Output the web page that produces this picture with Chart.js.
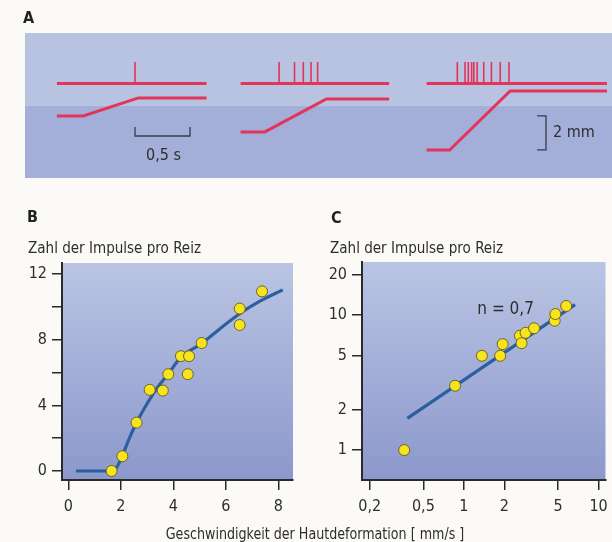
<!DOCTYPE html>
<html>
<head>
<meta charset="utf-8">
<script src="https://cdn.jsdelivr.net/npm/chart.js@4.4.1/dist/chart.umd.min.js"></script>
<style>
  html, body { margin: 0; padding: 0; }
  body {
    width: 612px; height: 542px; position: relative; overflow: hidden;
    background: #fbfaf6; color: #2e2e2e;
    font-family: "Liberation Sans Narrow", "DejaVu Sans Condensed", sans-serif;
  }
  canvas { position: absolute; }
  .lbl { position: absolute; white-space: nowrap; line-height: 1; }
  .panel { font-weight: bold; font-size: 16px; color: #222; }
  .title { font-size: 16px; transform: scaleX(0.94); transform-origin: left center; }
  .xtitle { font-size: 15px; transform: scaleX(0.94); transform-origin: center center; text-align: center; }
</style>
</head>
<body>
<canvas id="chartA" width="612" height="190" style="left:0; top:0;"></canvas>
<canvas id="chartB" width="300" height="342" style="left:0; top:200px;"></canvas>
<canvas id="chartC" width="312" height="342" style="left:300px; top:200px;"></canvas>

<div class="lbl panel" style="left:23px; top:10px;">A</div>
<div class="lbl panel" style="left:27px; top:209px;">B</div>
<div class="lbl title" style="left:28px; top:240px;">Zahl der Impulse pro Reiz</div>
<div class="lbl panel" style="left:331px; top:210px;">C</div>
<div class="lbl title" style="left:330px; top:240px;">Zahl der Impulse pro Reiz</div>
<div class="lbl xtitle" style="left:0; width:630px; top:527px;">Geschwindigkeit der Hautdeformation [ mm/s ]</div>

<script>
// ---- A: recordings (time in s, skin displacement in mm) ----
const traceStart = [0.29, 1.96, 3.65];
const traceEnd = [1.65, 3.31, 5.29];
const rampStart = [0.53, 2.18, 3.86];
const rampEnd = [1.03, 2.74, 4.41];
const rampLow = [3.65, 2.71, 1.65];
const rampHigh = [4.71, 4.65, 5.12];
const spikeTimes1 = [1.0];
const spikeTimes2 = [2.31, 2.45, 2.53, 2.60, 2.66];
const spikeTimes3 = [3.93, 4.00, 4.03, 4.06, 4.08, 4.11, 4.17, 4.24, 4.32, 4.40];
const timeBar = [1.0, 1.5];   // 0,5 s
const mmBar = [1.65, 3.65];   // 2 mm

// ---- B: linear axes ----
const speedB = [1.65, 2.06, 2.6, 3.1, 3.6, 3.81, 4.29, 4.55, 4.6, 5.08, 6.53, 6.53, 7.38];
const impulsesB = [0, 0.9, 2.95, 4.95, 4.9, 5.9, 7, 5.9, 7, 7.8, 9.9, 8.9, 10.95];
const fitSpeedB = [0.29, 1.71, 2.0, 2.3, 2.6, 3.0, 3.4, 3.8, 4.3, 5.06, 5.8, 6.54, 7.3, 8.17];
const fitImpulsesB = [0, 0, 0.7, 1.9, 2.95, 4.1, 5.1, 5.9, 6.95, 7.75, 8.7, 9.6, 10.35, 11.04];
const xTicksB = [0, 2, 4, 6, 8];
const yTicksB = [0, 2, 4, 6, 8, 10, 12];

// ---- C: log-log axes ----
const speedC = [0.36, 0.86, 1.36, 1.86, 1.94, 2.61, 2.68, 2.87, 3.32, 4.72, 4.78, 5.75];
const impulsesC = [1.0, 3.0, 5.0, 5.0, 6.1, 7.05, 6.2, 7.4, 8.0, 9.1, 10.2, 11.7];
const fitSpeedC = [0.38, 6.69];
const fitImpulsesC = [1.72, 11.97];
const xTicksC = [0.2, 0.5, 1, 2, 5, 10];
const yTicksC = [1, 2, 5, 10, 20];

const narrowFont = '"Liberation Sans Narrow", "DejaVu Sans Condensed", sans-serif';
const traceRed = '#e3345a';
const inkColor = '#2a2a2a';
const textColor = '#2e2e2e';

Chart.defaults.animation = false;
Chart.defaults.font.family = narrowFont;

function pairs(xs, ys) {
  return xs.map((x, i) => ({ x: x, y: ys[i] }));
}

function spikeData(times, base, top) {
  const out = [];
  times.forEach(t => {
    out.push({ x: t, y: base }, { x: t, y: top }, { x: t, y: null });
  });
  return out;
}

function rampData(i) {
  return [
    { x: traceStart[i], y: rampLow[i] },
    { x: rampStart[i], y: rampLow[i] },
    { x: rampEnd[i], y: rampHigh[i] },
    { x: traceEnd[i], y: rampHigh[i] }
  ];
}

/**
 * Panel A
 */
const baseLevel = 5.56;
const spikeTop = 6.82;
const bandSplit = 4.24;

const panelADecor = {
  id: 'panelADecor',
  beforeDraw(chart) {
    const { ctx, chartArea: a, scales } = chart;
    const split = scales.y.getPixelForValue(bandSplit);
    ctx.save();
    ctx.fillStyle = '#b8c3e1';
    ctx.fillRect(a.left, a.top, a.width, split - a.top);
    ctx.fillStyle = '#a3afd8';
    ctx.fillRect(a.left, split, a.width, a.bottom - split);
    ctx.restore();
  },
  afterDraw(chart) {
    const { ctx, scales } = chart;
    ctx.save();
    ctx.fillStyle = textColor;
    ctx.font = '16px ' + narrowFont;
    ctx.textBaseline = 'middle';
    ctx.textAlign = 'center';
    ctx.fillText('0,5 s', scales.x.getPixelForValue((timeBar[0] + timeBar[1]) / 2) + 1, scales.y.getPixelForValue(1.29));
    ctx.textAlign = 'left';
    ctx.fillText('2 mm', scales.x.getPixelForValue(4.8), scales.y.getPixelForValue((mmBar[0] + mmBar[1]) / 2));
    ctx.restore();
  }
};

const datasetsA = [];
[spikeTimes1, spikeTimes2, spikeTimes3].forEach((times, i) => {
  datasetsA.push({
    data: [{ x: traceStart[i], y: baseLevel }, { x: traceEnd[i], y: baseLevel }],
    borderColor: traceRed, borderWidth: 3
  });
  datasetsA.push({
    data: spikeData(times, baseLevel, spikeTop),
    borderColor: traceRed, borderWidth: 1.6
  });
  datasetsA.push({
    data: rampData(i),
    borderColor: traceRed, borderWidth: 3
  });
});
datasetsA.push({
  data: [
    { x: timeBar[0], y: 3.0 }, { x: timeBar[0], y: 2.47 },
    { x: timeBar[1], y: 2.47 }, { x: timeBar[1], y: 3.0 }
  ],
  borderColor: '#3a3a48', borderWidth: 1.3
});
datasetsA.push({
  data: [
    { x: 4.655, y: mmBar[1] }, { x: 4.736, y: mmBar[1] },
    { x: 4.736, y: mmBar[0] }, { x: 4.655, y: mmBar[0] }
  ],
  borderColor: '#3a3a48', borderWidth: 1.3
});

new Chart(document.getElementById('chartA'), {
  type: 'line',
  data: { datasets: datasetsA },
  options: {
    responsive: false,
    spanGaps: false,
    elements: { point: { radius: 0 }, line: { tension: 0, borderCapStyle: 'butt' } },
    layout: { padding: { left: 25, top: 33, right: 0, bottom: 12 } },
    plugins: { legend: { display: false }, tooltip: { enabled: false } },
    scales: {
      x: { type: 'linear', display: false, min: 0, max: 5.336 },
      y: { type: 'linear', display: false, min: 0, max: 8.53 }
    }
  },
  plugins: [panelADecor]
});

/**
 * Panels B and C
 */
const plotBackground = {
  id: 'plotBackground',
  beforeDraw(chart) {
    const { ctx, chartArea: a } = chart;
    const g = ctx.createLinearGradient(0, a.top, 0, a.bottom);
    g.addColorStop(0, '#bac4e3');
    g.addColorStop(0.5, '#a3aed8');
    g.addColorStop(1, '#8c98cb');
    ctx.save();
    ctx.fillStyle = g;
    ctx.fillRect(a.left, a.top, a.width, a.height);
    ctx.restore();
  }
};

function axisOptions(extra, tickValues, size, isX) {
  return Object.assign({
    afterBuildTicks: s => { s.ticks = tickValues.map(v => ({ value: v })); },
    afterFit: s => {
      if (isX) { s.height = size; } else { s.width = size; }
      // let the layout padding alone decide the plot edges
      s.paddingLeft = 0; s.paddingRight = 0; s.paddingTop = 0; s.paddingBottom = 0;
    },
    grid: { drawOnChartArea: false, drawTicks: true, tickLength: 10, color: inkColor, lineWidth: 1.5 },
    border: { display: true, color: inkColor, width: 2 },
    ticks: {
      color: textColor,
      font: { family: narrowFont, size: 16 },
      padding: isX ? 7 : 5,
      maxRotation: 0,
      autoSkip: false
    }
  }, extra);
}

function scatterSets(xs, ys, fitX, fitY, monotone) {
  return [
    {
      data: pairs(xs, ys),
      showLine: false,
      pointRadius: 5.5,
      pointBackgroundColor: '#f6e51c',
      pointBorderColor: '#6f6322',
      pointBorderWidth: 1,
      order: 0
    },
    {
      data: pairs(fitX, fitY),
      showLine: true,
      borderColor: '#2c5f9e',
      borderWidth: 3.2,
      pointRadius: 0,
      cubicInterpolationMode: monotone ? 'monotone' : 'default',
      tension: monotone ? 0.4 : 0,
      order: 1
    }
  ];
}

const chartB = new Chart(document.getElementById('chartB'), {
  type: 'scatter',
  data: { datasets: scatterSets(speedB, impulsesB, fitSpeedB, fitImpulsesB, true) },
  options: {
    responsive: false,
    layout: { padding: { left: 0, top: 63, right: 7, bottom: 0 } },
    plugins: { legend: { display: false }, tooltip: { enabled: false } },
    scales: {
      x: axisOptions({ type: 'linear', min: -0.24, max: 8.56 }, xTicksB, 62, true),
      y: axisOptions({ type: 'linear', min: -0.55, max: 12.68 }, yTicksB, 62, false)
    }
  },
  plugins: [plotBackground]
});
chartB.options.scales.y.ticks.callback = v => (v % 4 === 0 ? String(v) : '');
chartB.update();

const nLabel = {
  id: 'nLabel',
  afterDatasetsDraw(chart) {
    const { ctx, scales } = chart;
    ctx.save();
    ctx.fillStyle = textColor;
    ctx.font = '17px ' + narrowFont;
    ctx.textAlign = 'center';
    ctx.textBaseline = 'middle';
    ctx.fillText('n = 0,7', scales.x.getPixelForValue(2.04), scales.y.getPixelForValue(11.06));
    ctx.restore();
  }
};

const chartC = new Chart(document.getElementById('chartC'), {
  type: 'scatter',
  data: { datasets: scatterSets(speedC, impulsesC, fitSpeedC, fitImpulsesC, false) },
  options: {
    responsive: false,
    layout: { padding: { left: 0, top: 62, right: 4, bottom: 0 } },
    plugins: { legend: { display: false }, tooltip: { enabled: false } },
    scales: {
      x: axisOptions({ type: 'logarithmic', min: 0.175, max: 11.26 }, xTicksC, 62, true),
      y: axisOptions({ type: 'logarithmic', min: 0.635, max: 24.8 }, yTicksC, 62, false)
    }
  },
  plugins: [plotBackground, nLabel]
});
chartC.options.scales.x.ticks.callback = v => String(v).replace('.', ',');
chartC.options.scales.y.ticks.callback = v => String(v);
chartC.update();
</script>
</body>
</html>
